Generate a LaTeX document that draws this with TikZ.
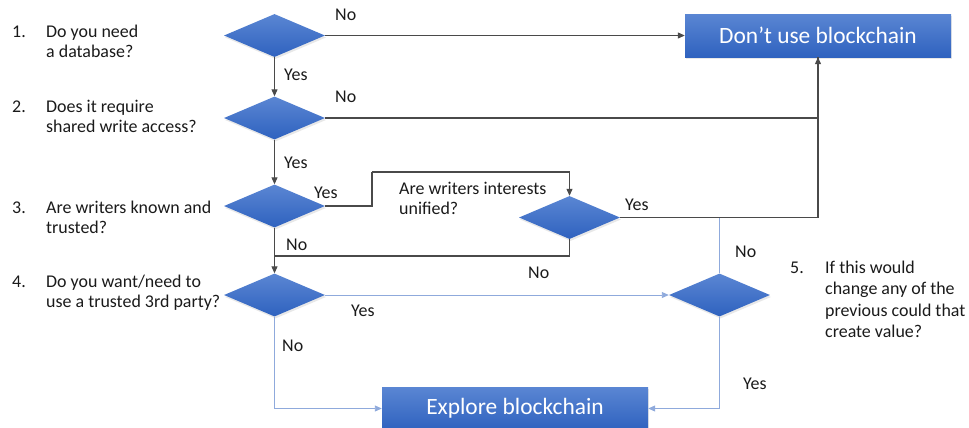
\documentclass[tikz,border=0pt]{standalone}
\usepackage{fontspec}
\setmainfont{Carlito}
\usetikzlibrary{shapes.geometric,arrows.meta,shadows}
\definecolor{topblue}{HTML}{5A86D3}
\definecolor{botblue}{HTML}{2F62BF}
\definecolor{darkline}{HTML}{4A4A4A}
\definecolor{lightline}{HTML}{8FAADC}
\definecolor{ink}{HTML}{1A1A1A}
\newcommand\qfont{\fontsize{18}{20.5}\selectfont}
\newcommand\rfont{\fontsize{18}{21.7}\selectfont}
\newcommand\bfont{\fontsize{23.5}{27}\selectfont}

\begin{document}
\begin{tikzpicture}[x=1bp,y=-1bp,
  decision/.style={diamond, draw=none, minimum width=101bp, minimum height=43bp,
    inner sep=0pt, top color=topblue, bottom color=botblue,
    drop shadow={opacity=0.18, shadow xshift=1bp, shadow yshift=-2bp}},
  outcome/.style={rectangle, draw=none, minimum width=266bp, minimum height=43bp,
    inner sep=0pt, top color=topblue, bottom color=botblue, text=white, font=\bfont,
    drop shadow={opacity=0.18, shadow xshift=1bp, shadow yshift=-2bp}},
  lbl/.style={anchor=base west, inner sep=0pt, font=\qfont, text=ink},
  para/.style={anchor=north west, inner sep=0pt, align=left, font=\qfont, text=ink},
  rpara/.style={anchor=north west, inner sep=0pt, align=left, font=\rfont, text=ink},
  dk/.style={draw=darkline, line width=1.1bp},
  lb/.style={draw=lightline, line width=0.9bp},
  tip/.style={-{Triangle[length=7bp,width=6bp]}}
]
\useasboundingbox (0,0) rectangle (969,427);

% decisions
\node[decision] (d1) at (274.5,35.5) {};
\node[decision] (d2) at (274.5,118) {};
\node[decision] (d3) at (274.5,206) {};
\node[decision] (du) at (569.5,217.5) {};
\node[decision] (d4) at (274.5,295) {};
\node[decision] (d5) at (719.5,295) {};

% outcomes
\node[outcome] (nouse) at (818,35.5) {Don’t use blockchain};
\node[outcome] (explore) at (515,408.5) {Explore blockchain};

% bend points
\coordinate (c1) at (372,172);
\coordinate (j1) at (274.5,256);

% connectors
\draw[dk,tip] (d1.east) -- (nouse.west);
\draw[dk,tip] (d1.south) -- (d2.north);
\draw[dk] (d2.east) -| (nouse.south);
\draw[dk,tip] (d2.south) -- (d3.north);
\draw[dk] (d3.east) -| (c1);
\draw[dk,tip] (c1) -| (du.north);
\draw[dk,tip] (du.east) -| (nouse.south);
\draw[dk] (du.south) |- (j1);
\draw[dk,tip] (d3.south) -- (d4.north);
\draw[lb,tip] (d4.east) -- (d5.west);
\draw[lb,tip] (d4.south) |- (explore.west);
\draw[lb,tip] (d5.south) |- (explore.east);
\draw[lb] (d5.north) -- (d5.north |- du.east);

% branch labels
\node[lbl] (n1) at (335,20) {No};
\node[lbl] (y1) at (284,80) {Yes};
\node[lbl] (n2) at (335,102) {No};
\node[lbl] (y2) at (284,168) {Yes};
\node[lbl] (y3) at (314,198) {Yes};
\node[lbl] (n3) at (286,250) {No};
\node[lbl] (n4) at (528,278) {No};
\node[lbl] (y4) at (625,210) {Yes};
\node[lbl] (y5) at (351,316) {Yes};
\node[lbl] (n5) at (282,351) {No};
\node[lbl] (n6) at (735,257) {No};
\node[lbl] (y6) at (743,389) {Yes};

% questions
\node[lbl] (k1) at (12,37) {1.};
\node[para] (q1) at (46,22.65) {\strut Do you need\\a database?};
\node[lbl] (k2) at (12,112) {2.};
\node[para] (q2) at (46,97.65) {\strut Does it require\\shared write access?};
\node[lbl] (k3) at (12,213) {3.};
\node[para] (q3) at (46,198.65) {\strut Are writers known and\\trusted?};
\node[lbl] (k4) at (12,287) {4.};
\node[para] (q4) at (46,272.65) {\strut Do you want/need to\\use a trusted 3rd party?};
\node[para] (qu) at (399,179.65) {\strut Are writers interests\\unified?};
\node[lbl] (k5) at (790,273) {5.};
\node[rpara] (q5) at (825,257.8) {\strut If this would\\change any of the\\previous could that\\create value?};
\end{tikzpicture}
\end{document}
